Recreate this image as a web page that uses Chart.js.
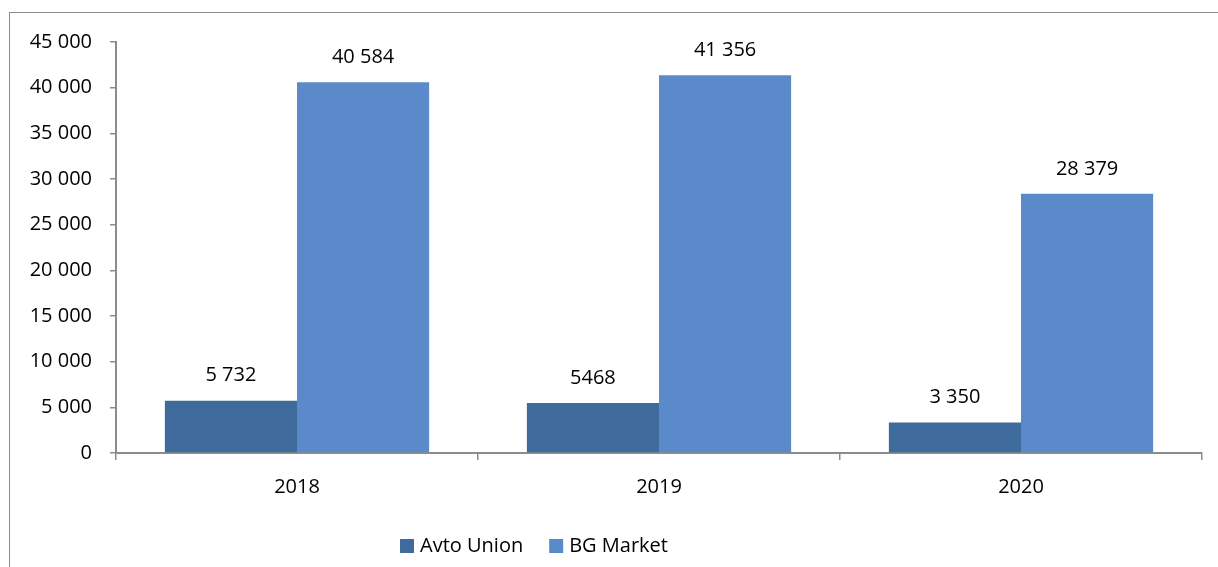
<!DOCTYPE html>
<html>
<head>
<meta charset="utf-8">
<script src="https://cdn.jsdelivr.net/npm/chart.js@4.4.1/dist/chart.umd.min.js"></script>
<style>
  html, body { margin: 0; padding: 0; background: #ffffff; }
  #wrap { position: relative; width: 1218px; height: 567px; }
</style>
</head>
<body>
<div id="wrap"><canvas id="chart"></canvas></div>
<script>
// Registrations per year
const years = ['2018', '2019', '2020'];
const avtoUnion = [5732, 5468, 3350];
const bgMarket = [40584, 41356, 28379];
const avtoUnionLabels = ['5 732', '5468', '3 350'];
const bgMarketLabels = ['40 584', '41 356', '28 379'];
const yTicks = [0, 5000, 10000, 15000, 20000, 25000, 30000, 35000, 40000, 45000];

const FONT = '"Open Sans", "Liberation Sans", sans-serif';
const FONT_SIZE = 20;
const AXIS_GREY = '#8c8c8c';

function groupDigits(v) {
  return String(v).replace(/\B(?=(\d{3})+(?!\d))/g, ' ');
}

// Outer frame of the chart
const framePlugin = {
  id: 'frame',
  beforeDraw(chart) {
    const ctx = chart.ctx;
    ctx.save();
    ctx.strokeStyle = '#8c8c8c';
    ctx.lineWidth = 1;
    ctx.strokeRect(9.5, 12.5, chart.width + 20, chart.height + 20);
    ctx.restore();
  }
};

// Value labels above each bar
const valueLabels = {
  id: 'valueLabels',
  afterDatasetsDraw(chart) {
    const ctx = chart.ctx;
    ctx.save();
    ctx.font = FONT_SIZE + 'px ' + FONT;
    ctx.fillStyle = '#000000';
    ctx.textAlign = 'center';
    ctx.textBaseline = 'middle';
    chart.data.datasets.forEach((ds, i) => {
      const meta = chart.getDatasetMeta(i);
      meta.data.forEach((bar, j) => {
        ctx.fillText(ds.valueText[j], bar.x, bar.y - 25);
      });
    });
    ctx.restore();
  }
};

// Legend row under the axis
const legendRow = {
  id: 'legendRow',
  afterDraw(chart) {
    const ctx = chart.ctx;
    ctx.save();
    ctx.font = FONT_SIZE + 'px ' + FONT;
    ctx.textBaseline = 'middle';
    ctx.textAlign = 'left';
    let x = 400;
    const cy = 546;
    chart.data.datasets.forEach(ds => {
      ctx.fillStyle = ds.backgroundColor;
      ctx.fillRect(x, cy - 7, 14, 14);
      ctx.fillStyle = '#000000';
      ctx.fillText(ds.label, x + 20, cy);
      x += 20 + ctx.measureText(ds.label).width + 26;
    });
    ctx.restore();
  }
};

new Chart(document.getElementById('chart'), {
  type: 'bar',
  data: {
    labels: years,
    datasets: [
      { label: 'Avto Union', data: avtoUnion, valueText: avtoUnionLabels,
        backgroundColor: '#3e6a9c', borderWidth: 0 },
      { label: 'BG Market', data: bgMarket, valueText: bgMarketLabels,
        backgroundColor: '#5a8ac9', borderWidth: 0 }
    ]
  },
  options: {
    responsive: true,
    maintainAspectRatio: false,
    animation: false,
    events: [],
    layout: { padding: { left: 10, right: 16, top: 42, bottom: 64 } },
    datasets: { bar: { categoryPercentage: 0.73, barPercentage: 1.0 } },
    plugins: { legend: { display: false }, tooltip: { enabled: false } },
    scales: {
      x: {
        afterFit(s) { s.height = 50; },
        grid: { display: true, offset: true, drawOnChartArea: false, drawTicks: true,
                tickLength: 7, color: AXIS_GREY, lineWidth: 1.5 },
        border: { display: true, color: AXIS_GREY, width: 2 },
        ticks: { color: '#000000', font: { family: FONT, size: FONT_SIZE }, padding: 15 }
      },
      y: {
        min: 0,
        max: 45000,
        afterFit(s) { s.width = 106; },
        afterBuildTicks(s) { s.ticks = yTicks.map(v => ({ value: v })); },
        grid: { display: true, drawOnChartArea: false, drawTicks: true,
                tickLength: 6, color: AXIS_GREY, lineWidth: 1.5 },
        border: { display: true, color: AXIS_GREY, width: 2 },
        ticks: { color: '#000000', font: { family: FONT, size: FONT_SIZE }, padding: 18,
                 callback: v => groupDigits(v) }
      }
    }
  },
  plugins: [framePlugin, valueLabels, legendRow]
});
</script>
</body>
</html>
